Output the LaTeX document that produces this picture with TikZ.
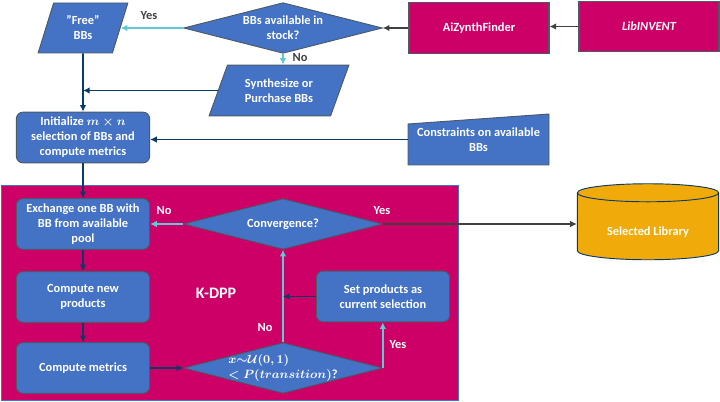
\documentclass[tikz,border=0pt]{standalone}
\usepackage{fontspec}
\usepackage{amsmath}
\setmainfont{Carlito}
\usetikzlibrary{shapes.geometric,arrows.meta}
\definecolor{boxblue}{HTML}{4472C4}
\definecolor{panelpink}{HTML}{CC0066}
\definecolor{edgegray}{HTML}{4A5A66}
\definecolor{navyline}{HTML}{0B3A66}
\definecolor{cyanline}{HTML}{5CCBD6}
\definecolor{darkline}{HTML}{404040}
\definecolor{dbyellow}{HTML}{F0AB0A}
\tikzset{
    every node/.style={text=white, font=\bfseries\fontsize{9.3}{11.2}\selectfont, align=center, inner sep=0pt},
    roundbox/.style={draw=edgegray, line width=0.7pt, fill=boxblue, rounded corners=5pt, minimum width=100pt, minimum height=38pt},
    pinkbox/.style={draw=edgegray, line width=0.8pt, fill=panelpink, minimum width=105pt, minimum height=38pt},
    decision/.style={draw=edgegray, line width=0.7pt, fill=boxblue, diamond, aspect=3.95, minimum width=149pt, minimum height=38pt},
    slanted/.style={draw=edgegray, line width=0.7pt, fill=boxblue, trapezium, trapezium stretches, trapezium left angle=#1, trapezium right angle=180-#1},
    navyarrow/.style={draw=navyline, line width=1.3pt, -{Latex[length=5pt,width=5pt]}},
    cyanarrow/.style={draw=cyanline, line width=1.3pt, -{Latex[length=5pt,width=5pt]}},
    darkarrow/.style={draw=darkline, line width=1.3pt, -{Latex[length=5pt,width=5pt]}},
    darkblack/.style={text=darkline},
}
\begin{document}
\begin{tikzpicture}[x=0.75pt, y=-0.75pt]
    \useasboundingbox (0,0) rectangle (720,402);

    % panel behind the sampling loop
    \node (panel) [draw=boxblue, line width=0.5pt, fill=panelpink, minimum width=343pt, minimum height=161.5pt] at (229.5,293) {};

    % top row
    \node (free) [slanted=70, minimum width=67.5pt, minimum height=37.5pt] at (83,28) {''Free''\\BBs};
    \node (stock) [decision] at (283,28) {BBs available in\\stock?};
    \node (finder) [pinkbox] at (479,28) {AiZynthFinder};
    \node (invent) [pinkbox] at (649,26.5) {\itshape LibINVENT};
    \node (buy) [slanted=63, minimum width=105pt, minimum height=38pt] at (279,90.5) {Synthesize or\\Purchase BBs};

    % start of the loop
    \node (init) [roundbox] at (83,137.5) {Initialize $\boldsymbol{m\times n}$\\selection of BBs and\\compute metrics};
    \fill[boxblue, draw=edgegray, line width=0.7pt] (408,124) -- (549,114) -- (549,165) -- (408,165) -- cycle;
    \node (limits) [minimum width=105.75pt, minimum height=38.25pt] at (478.5,139.5) {Constraints on available\\BBs};

    % K-DPP loop
    \node (swap) [roundbox] at (83,224) {Exchange one BB with\\BB from available\\pool};
    \node (newprod) [roundbox] at (83,297) {Compute new\\products};
    \node (metrics) [roundbox] at (83,368) {Compute metrics};
    \node (conv) [decision] at (283,224) {Convergence?};
    \node (accept) [decision, align=left, inner sep=-3pt] at (283,368) {$\boldsymbol{x{\sim}\mathcal{U}(0,1)}$\\$\boldsymbol{<P(transition)}$?};
    \node (current) [roundbox] at (383,296.5) {Set products as\\current selection};
    \node (kdpp) [font=\bfseries\fontsize{12}{13}\selectfont] at (216,293) {K-DPP};

    % result store
    \node (library) [draw=navyline, line width=0.7pt, fill=dbyellow, cylinder, shape border rotate=90, aspect=0.22, minimum width=106pt, minimum height=57pt] at (648,226.5) {\raisebox{-6.4pt}[0pt][0pt]{Selected Library}};

    % connectors
    \coordinate (joinA) at (free.south |- buy.west);
    \coordinate (joinB) at (current.west -| conv.south);
    \coordinate (turn) at (accept.east |- current.south);
    \draw[darkarrow] (invent.west) -- (finder.east |- invent.west);
    \draw[darkarrow] (finder.west) -- (stock.east);
    \draw[cyanarrow] (stock.west) -- (free.east |- stock.west);
    \draw[cyanarrow] (stock.south) -- (stock.south |- buy.north);
    \draw[navyarrow] (free.south) -- (init.north);
    \draw[navyarrow] (buy.west) -- (joinA);
    \draw[navyarrow] (limits.west) -- (init.east |- limits.west);
    \draw[navyarrow] (init.south) -- (swap.north);
    \draw[cyanarrow] (conv.west) -- (swap.east);
    \draw[navyarrow] (swap.south) -- (newprod.north);
    \draw[navyarrow] (newprod.south) -- (metrics.north);
    \draw[navyarrow] (metrics.east) -- (accept.west);
    \draw[cyanarrow] (accept.north) -- (conv.south);
    \draw[navyarrow] (current.west) -- (joinB);
    \draw[cyanarrow] (accept.east) -- (turn);
    \draw[darkarrow] (conv.east) -- (library.west |- conv.east);

    % branch labels
    \node (yesA) [darkblack] at (149,16) {Yes};
    \node (noA) [darkblack] at (300,58) {No};
    \node (noB) at (164,211) {No};
    \node (yesB) at (382,211) {Yes};
    \node (noC) at (265,328) {No};
    \node (yesC) at (398,345) {Yes};
\end{tikzpicture}
\end{document}
